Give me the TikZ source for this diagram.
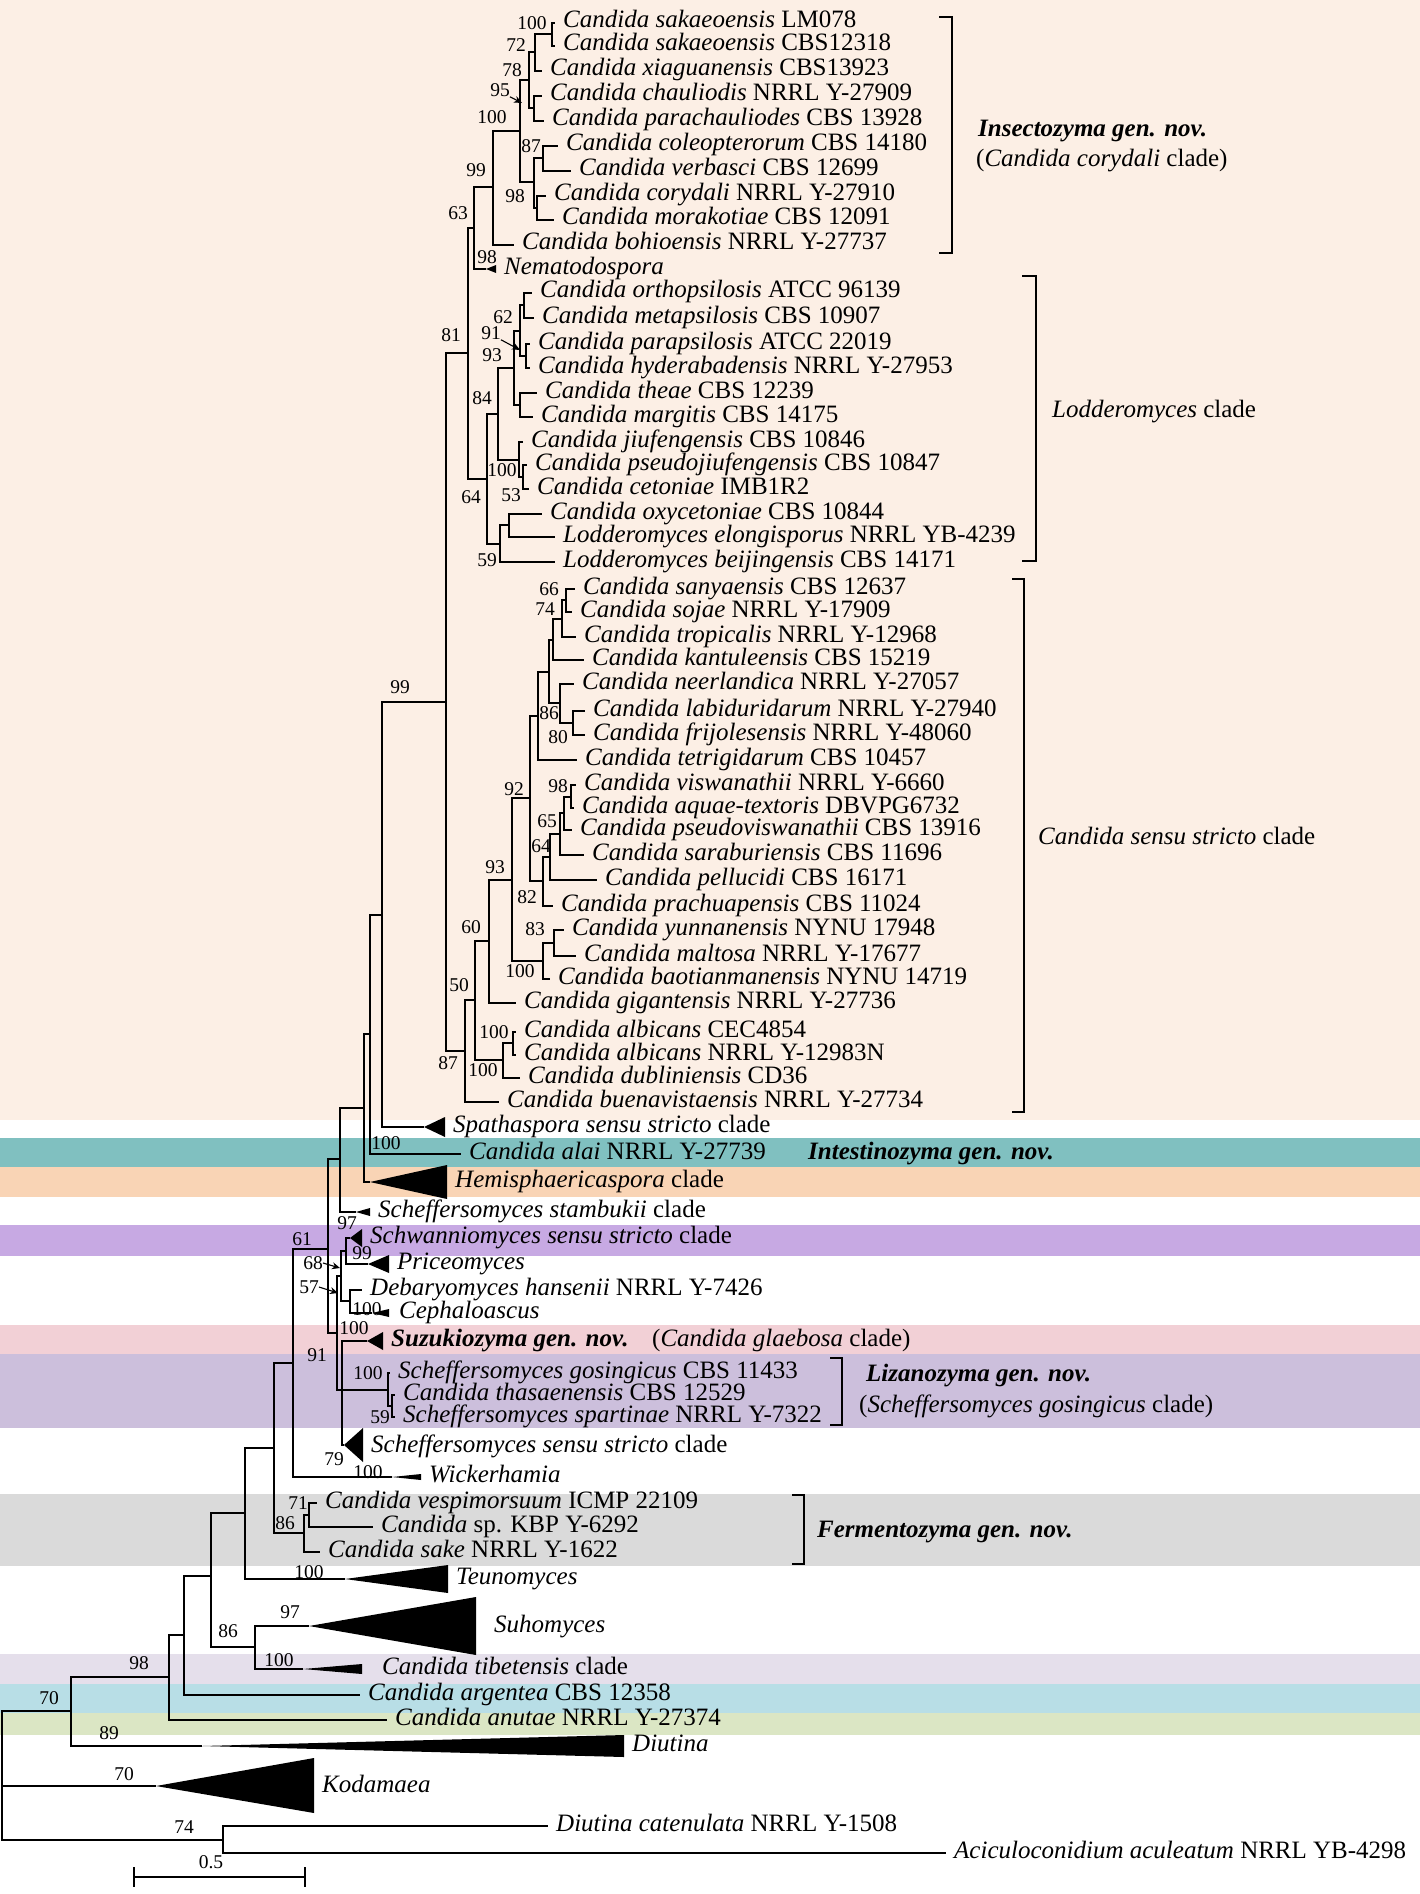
\documentclass[tikz,border=0pt]{standalone}
\usepackage{fontspec}
\setmainfont{Liberation Serif}
\usetikzlibrary{arrows.meta}
\definecolor{bandcream}{HTML}{FCEFE5}
\definecolor{bandteal}{HTML}{80C0C0}
\definecolor{bandpeach}{HTML}{F9D4B5}
\definecolor{bandviolet}{HTML}{C7A9E3}
\definecolor{bandpink}{HTML}{F2D0D6}
\definecolor{bandlilac}{HTML}{CCBFDC}
\definecolor{bandgrey}{HTML}{DADADA}
\definecolor{bandmist}{HTML}{E5DFEB}
\definecolor{bandsky}{HTML}{B8DEE6}
\definecolor{bandolive}{HTML}{DBE6C4}
\newcommand{\Cd}[1]{\textit{Candida #1}}
\newcommand{\gn}[1]{\textbf{\textit{#1 gen. nov.}}}

\begin{document}
\begin{tikzpicture}[x=1pt, y=-1pt,
  br/.style={line width=2pt},
  leaf/.style={anchor=west, inner xsep=8pt, inner ysep=0pt,
    text height=15pt, text depth=5pt, font=\fontsize{25}{26}\selectfont},
  lab/.style={anchor=west, inner sep=0pt, text height=15pt, text depth=5pt,
    font=\fontsize{25}{26}\selectfont},
  bs/.style={inner sep=0pt, font=\fontsize{19.5}{20}\selectfont},
  brk/.style={line width=2.4pt},
  ptr/.style={-{Stealth[length=8pt, width=7pt]}, line width=1.1pt},
]

% Background bands
\useasboundingbox (0,0) rectangle (1420,1894);
\fill[white] (0,0) rectangle (1420,1894);
\fill[bandcream] (0,0) rectangle (1420,1120);
\fill[bandteal] (0,1138) rectangle (1420,1167);
\fill[bandpeach] (0,1167) rectangle (1420,1197);
\fill[bandviolet] (0,1225) rectangle (1420,1256);
\fill[bandpink] (0,1325) rectangle (1420,1354);
\fill[bandlilac] (0,1354) rectangle (1420,1428);
\fill[bandgrey] (0,1494) rectangle (1420,1566);
\fill[bandmist] (0,1654) rectangle (1420,1684);
\fill[bandsky] (0,1684) rectangle (1420,1713);
\fill[bandolive] (0,1713) rectangle (1420,1735);

% =============================================
% Insectozyma clade
% =============================================
\node[leaf] (sak1) at (555,23) {\Cd{sakaeoensis} LM078};
\node[leaf] (sak2) at (555,46) {\Cd{sakaeoensis} CBS12318};
\node[leaf] (xia) at (542,71) {\Cd{xiaguanensis} CBS13923};
\node[leaf] (cha) at (542,96) {\Cd{chauliodis} NRRL Y-27909};
\node[leaf] (pch) at (544,121) {\Cd{parachauliodes} CBS 13928};
\node[leaf] (col) at (558,146) {\Cd{coleopterorum} CBS 14180};
\node[leaf] (vbs) at (571,171) {\Cd{verbasci} CBS 12699};
\node[leaf] (cor) at (546,196) {\Cd{corydali} NRRL Y-27910};
\node[leaf] (mor) at (554,220) {\Cd{morakotiae} CBS 12091};
\node[leaf] (boh) at (514,245) {\Cd{bohioensis} NRRL Y-27737};
\node[leaf] (nem) at (496,269) {\textit{Nematodospora}};

\coordinate (in1) at (552,34);
\coordinate (in2) at (535,52);
\coordinate (in3) at (534,108);
\coordinate (in4) at (529,80);
\coordinate (in5) at (543,158);
\coordinate (in6) at (537,208);
\coordinate (in7) at (534,182);
\coordinate (in8) at (520,131);
\coordinate (in9) at (493,187);
\coordinate (in10) at (474,228);
\coordinate (tnem) at (486,269);

\draw[br] (in1) |- (sak1.west) (in1) |- (sak2.west);
\draw[br] (in2) |- (in1) (in2) |- (xia.west);
\draw[br] (in3) |- (cha.west) (in3) |- (pch.west);
\draw[br] (in4) |- (in2) (in4) |- (in3);
\draw[br] (in5) |- (col.west) (in5) |- (vbs.west);
\draw[br] (in6) |- (cor.west) (in6) |- (mor.west);
\draw[br] (in7) |- (in5) (in7) |- (in6);
\draw[br] (in8) |- (in4) (in8) |- (in7);
\draw[br] (in9) |- (in8) (in9) |- (boh.west);
\draw[br] (in10) |- (in9) (in10) |- (tnem);
\fill (tnem) -- (496,265) -- (496,273) -- cycle;

\node[bs] (v1) at (532,23) {100};
\node[bs] (v2) at (516,45) {72};
\node[bs] (v3) at (512,70) {78};
\node[bs] (v4) at (500,90) {95};
\draw[ptr] (v4.south east) -- (522,103);
\node[bs] (v5) at (492,117) {100};
\node[bs] (v6) at (531,146) {87};
\node[bs] (v7) at (515,196) {98};
\node[bs] (v8) at (476,170) {99};
\node[bs] (v9) at (458,213) {63};
\node[bs] (v10) at (487,257) {98};

% =============================================
% Lodderomyces clade
% =============================================
\node[leaf] (ort) at (532,293) {\Cd{orthopsilosis} ATCC 96139};
\node[leaf] (met) at (534,318) {\Cd{metapsilosis} CBS 10907};
\node[leaf] (pps) at (530,344) {\Cd{parapsilosis} ATCC 22019};
\node[leaf] (hyd) at (530,368) {\Cd{hyderabadensis} NRRL Y-27953};
\node[leaf] (the) at (537,393) {\Cd{theae} CBS 12239};
\node[leaf] (mar) at (533,417) {\Cd{margitis} CBS 14175};
\node[leaf] (jiu) at (523,442) {\Cd{jiufengensis} CBS 10846};
\node[leaf] (psj) at (527,465) {\Cd{pseudojiufengensis} CBS 10847};
\node[leaf] (cet) at (529,489) {\Cd{cetoniae} IMB1R2};
\node[leaf] (oxy) at (542,514) {\Cd{oxycetoniae} CBS 10844};
\node[leaf] (elo) at (555,537) {\textit{Lodderomyces elongisporus} NRRL YB-4239};
\node[leaf] (bei) at (555,562) {\textit{Lodderomyces beijingensis} CBS 14171};

\coordinate (lo1) at (524,305);
\coordinate (lo2) at (526,356);
\coordinate (lo3) at (520,331);
\coordinate (lo4) at (520,405);
\coordinate (lo5) at (514,368);
\coordinate (lo6) at (523,477);
\coordinate (lo7) at (519,460);
\coordinate (lo8) at (498,414);
\coordinate (lo9) at (509,525);
\coordinate (lo10) at (500,544);
\coordinate (lo11) at (487,479);
\coordinate (lo12) at (468,353);

\draw[br] (lo1) |- (ort.west) (lo1) |- (met.west);
\draw[br] (lo2) |- (pps.west) (lo2) |- (hyd.west);
\draw[br] (lo3) |- (lo1) (lo3) |- (lo2);
\draw[br] (lo4) |- (the.west) (lo4) |- (mar.west);
\draw[br] (lo5) |- (lo3) (lo5) |- (lo4);
\draw[br] (lo6) |- (psj.west) (lo6) |- (cet.west);
\draw[br] (lo7) |- (jiu.west) (lo7) |- (lo6);
\draw[br] (lo8) |- (lo5) (lo8) |- (lo7);
\draw[br] (lo9) |- (oxy.west) (lo9) |- (elo.west);
\draw[br] (lo10) |- (lo9) (lo10) |- (bei.west);
\draw[br] (lo11) |- (lo8) (lo11) |- (lo10);
\draw[br] (lo12) |- (in10) (lo12) |- (lo11);

\node[bs] (v11) at (503,317) {62};
\node[bs] (v12) at (491,333) {91};
\draw[ptr] (v12.south east) -- (520,350);
\node[bs] (v13) at (492,355) {93};
\node[bs] (v14) at (482,398) {84};
\node[bs] (v15) at (502,470) {100};
\node[bs] (v16) at (511,495) {53};
\node[bs] (v17) at (471,497) {64};
\node[bs] (v18) at (487,560) {59};
\node[bs] (v19) at (451,335) {81};

% =============================================
% Candida sensu stricto clade
% =============================================
\node[leaf] (san) at (575,589) {\Cd{sanyaensis} CBS 12637};
\node[leaf] (soj) at (572,612) {\Cd{sojae} NRRL Y-17909};
\node[leaf] (tro) at (576,637) {\Cd{tropicalis} NRRL Y-12968};
\node[leaf] (kan) at (584,660) {\Cd{kantuleensis} CBS 15219};
\node[leaf] (nee) at (574,684) {\Cd{neerlandica} NRRL Y-27057};
\node[leaf] (lab) at (585,711) {\Cd{labiduridarum} NRRL Y-27940};
\node[leaf] (fri) at (585,735) {\Cd{frijolesensis} NRRL Y-48060};
\node[leaf] (tet) at (577,760) {\Cd{tetrigidarum} CBS 10457};
\node[leaf] (vis) at (576,785) {\Cd{viswanathii} NRRL Y-6660};
\node[leaf] (aqu) at (574,808) {\Cd{aquae-textoris} DBVPG6732};
\node[leaf] (psv) at (572,830) {\Cd{pseudoviswanathii} CBS 13916};
\node[leaf] (sar) at (584,855) {\Cd{saraburiensis} CBS 11696};
\node[leaf] (pel) at (597,880) {\Cd{pellucidi} CBS 16171};
\node[leaf] (pra) at (553,906) {\Cd{prachuapensis} CBS 11024};
\node[leaf] (yun) at (564,930) {\Cd{yunnanensis} NYNU 17948};
\node[leaf] (mal) at (576,956) {\Cd{maltosa} NRRL Y-17677};
\node[leaf] (bao) at (550,979) {\Cd{baotianmanensis} NYNU 14719};
\node[leaf] (gig) at (516,1003) {\Cd{gigantensis} NRRL Y-27736};
\node[leaf] (alb1) at (516,1032) {\Cd{albicans} CEC4854};
\node[leaf] (alb2) at (516,1055) {\Cd{albicans} NRRL Y-12983N};
\node[leaf] (dub) at (520,1078) {\Cd{dubliniensis} CD36};
\node[leaf] (bue) at (499,1102) {\Cd{buenavistaensis} NRRL Y-27734};

\coordinate (cs1) at (566,600);
\coordinate (cs2) at (562,619);
\coordinate (cs3) at (553,640);
\coordinate (cs4) at (573,723);
\coordinate (cs5) at (560,703);
\coordinate (cs6) at (549,672);
\coordinate (cs7) at (538,716);
\coordinate (cs8) at (571,797);
\coordinate (cs9) at (564,813);
\coordinate (cs10) at (560,834);
\coordinate (cs11) at (550,857);
\coordinate (cs12) at (543,881);
\coordinate (cs13) at (530,798);
\coordinate (cs14) at (554,943);
\coordinate (cs15) at (543,961);
\coordinate (cs16) at (512,880);
\coordinate (cs17) at (489,941);
\coordinate (cs18) at (513,1043);
\coordinate (cs19) at (503,1060);
\coordinate (cs20) at (475,1000);
\coordinate (cs21) at (465,1051);
\coordinate (cs22) at (446,702);

\draw[br] (cs1) |- (san.west) (cs1) |- (soj.west);
\draw[br] (cs2) |- (cs1) (cs2) |- (tro.west);
\draw[br] (cs3) |- (cs2) (cs3) |- (kan.west);
\draw[br] (cs4) |- (lab.west) (cs4) |- (fri.west);
\draw[br] (cs5) |- (nee.west) (cs5) |- (cs4);
\draw[br] (cs6) |- (cs3) (cs6) |- (cs5);
\draw[br] (cs7) |- (cs6) (cs7) |- (tet.west);
\draw[br] (cs8) |- (vis.west) (cs8) |- (aqu.west);
\draw[br] (cs9) |- (cs8) (cs9) |- (psv.west);
\draw[br] (cs10) |- (cs9) (cs10) |- (sar.west);
\draw[br] (cs11) |- (cs10) (cs11) |- (pel.west);
\draw[br] (cs12) |- (cs11) (cs12) |- (pra.west);
\draw[br] (cs13) |- (cs7) (cs13) |- (cs12);
\draw[br] (cs14) |- (yun.west) (cs14) |- (mal.west);
\draw[br] (cs15) |- (cs14) (cs15) |- (bao.west);
\draw[br] (cs16) |- (cs13) (cs16) |- (cs15);
\draw[br] (cs17) |- (cs16) (cs17) |- (gig.west);
\draw[br] (cs18) |- (alb1.west) (cs18) |- (alb2.west);
\draw[br] (cs19) |- (cs18) (cs19) |- (dub.west);
\draw[br] (cs20) |- (cs17) (cs20) |- (cs19);
\draw[br] (cs21) |- (cs20) (cs21) |- (bue.west);
\draw[br] (cs22) |- (lo12) (cs22) |- (cs21);

\node[bs] (v20) at (549,589) {66};
\node[bs] (v21) at (545,609) {74};
\node[bs] (v22) at (549,713) {86};
\node[bs] (v23) at (558,737) {80};
\node[bs] (v24) at (514,789) {92};
\node[bs] (v25) at (558,786) {98};
\node[bs] (v26) at (547,821) {65};
\node[bs] (v27) at (541,846) {64};
\node[bs] (v28) at (527,897) {82};
\node[bs] (v29) at (495,867) {93};
\node[bs] (v30) at (535,929) {83};
\node[bs] (v31) at (520,971) {100};
\node[bs] (v32) at (471,927) {60};
\node[bs] (v33) at (459,985) {50};
\node[bs] (v34) at (494,1032) {100};
\node[bs] (v35) at (483,1070) {100};
\node[bs] (v36) at (448,1063) {87};
\node[bs] (v37) at (400,687) {99};

% =============================================
% Middle clades
% =============================================
\coordinate (mc1) at (382,915);
\coordinate (tspa) at (424,1127);
\fill (tspa) -- (445,1117) -- (445,1137) -- cycle;
\node[leaf] (spa) at (445,1127) {\textit{Spathaspora sensu stricto} clade};
\draw[br] (mc1) |- (cs22) (mc1) |- (tspa);

\node[leaf] (ala) at (461,1154) {\Cd{alai} NRRL Y-27739};
\coordinate (mc2) at (370,1034);
\draw[br] (mc2) |- (mc1) (mc2) |- (ala.west);

\coordinate (themi) at (370,1182);
\fill (themi) -- (447,1165) -- (447,1199) -- cycle;
\node[leaf] (hemi) at (447,1182) {\textit{Hemisphaericaspora} clade};
\coordinate (mc3) at (364,1108);
\draw[br] (mc3) |- (mc2) (mc3) |- (themi);

\coordinate (tsta) at (356,1212);
\fill (tsta) -- (370,1208) -- (370,1216) -- cycle;
\node[leaf] (sta) at (370,1212) {\textit{Scheffersomyces stambukii} clade};
\coordinate (mc4) at (340,1159);
\draw[br] (mc4) |- (mc3) (mc4) |- (tsta);

\coordinate (tsch) at (350,1238);
\fill (tsch) -- (362,1229) -- (362,1247) -- cycle;
\node[leaf] (sch) at (362,1238) {\textit{Schwanniomyces sensu stricto} clade};
\coordinate (tpri) at (368,1264);
\fill (tpri) -- (389,1255) -- (389,1273) -- cycle;
\node[leaf] (pri) at (389,1264) {\textit{Priceomyces}};
\coordinate (mc5) at (346,1251);
\draw[br] (mc5) |- (tsch) (mc5) |- (tpri);

\node[leaf] (deb) at (362,1290) {\textit{Debaryomyces hansenii} NRRL Y-7426};
\coordinate (tcep) at (372,1313);
\fill (tcep) -- (389,1309) -- (389,1317) -- cycle;
\node[leaf] (cep) at (391,1313) {\textit{Cephaloascus}};
\coordinate (mc6) at (350,1301);
\draw[br] (mc6) |- (deb.west) (mc6) |- (tcep);
\coordinate (mc7) at (341,1276);
\draw[br] (mc7) |- (mc5) (mc7) |- (mc6);

\coordinate (tsuz) at (367,1341);
\fill (tsuz) -- (383,1332) -- (383,1350) -- cycle;
\node[leaf] (suz) at (383,1341) {\gn{Suzukiozyma}};
\node[lab] (suz2) at (652,1341) {(\textit{Candida glaebosa} clade)};

\node[leaf] (gos) at (390,1373) {\textit{Scheffersomyces gosingicus} CBS 11433};
\node[leaf] (tha) at (395,1395) {\Cd{thasaenensis} CBS 12529};
\node[leaf] (spt) at (395,1417) {\textit{Scheffersomyces spartinae} NRRL Y-7322};
\coordinate (mc8) at (392,1406);
\coordinate (mc9) at (388,1390);
\draw[br] (mc8) |- (tha.west) (mc8) |- (spt.west);
\draw[br] (mc9) |- (gos.west) (mc9) |- (mc8);

\coordinate (tsss) at (344,1445);
\fill (tsss) -- (363,1428) -- (363,1462) -- cycle;
\node[leaf] (sss) at (363,1447) {\textit{Scheffersomyces sensu stricto} clade};
\coordinate (mc10) at (342,1390);
\draw[br] (mc10) |- (tsuz) (mc10) |- (mc9) (mc10) |- (tsss);
\coordinate (mc11) at (337,1333);
\draw[br] (mc11) |- (mc7) (mc11) |- (mc10);
\coordinate (mc12) at (328,1249);
\draw[br] (mc12) |- (mc4) (mc12) |- (mc11);

\coordinate (twic) at (392,1477);
\fill (twic) -- (421,1474) -- (421,1480) -- cycle;
\node[leaf] (wic) at (421,1477) {\textit{Wickerhamia}};
\coordinate (mc13) at (293,1363);
\draw[br] (mc13) |- (mc12) (mc13) |- (twic);

\node[bs] (v38) at (386,1143) {100};
\node[bs] (v39) at (347,1223) {97};
\node[bs] (v40) at (362,1253) {99};
\node[bs] (v41) at (313,1263) {68};
\draw[ptr] (v41.east) -- (340,1268);
\node[bs] (v42) at (309,1287) {57};
\draw[ptr] (v42.east) -- (338,1293);
\node[bs] (v43) at (367,1309) {100};
\node[bs] (v44) at (354,1328) {100};
\node[bs] (v45) at (317,1355) {91};
\node[bs] (v46) at (368,1373) {100};
\node[bs] (v47) at (380,1417) {59};
\node[bs] (v48) at (334,1459) {79};
\node[bs] (v49) at (368,1472) {100};
\node[bs] (v50) at (302,1239) {61};

% =============================================
% Fermentozyma and lower clades
% =============================================
\node[leaf] (ves) at (317,1503) {\Cd{vespimorsuum} ICMP 22109};
\node[leaf] (csp) at (373,1527) {\textit{Candida} sp. KBP Y-6292};
\node[leaf] (sak) at (320,1552) {\Cd{sake} NRRL Y-1622};
\coordinate (fz1) at (309,1515);
\coordinate (fz2) at (304,1533);
\draw[br] (fz1) |- (ves.west) (fz1) |- (csp.west);
\draw[br] (fz2) |- (fz1) (fz2) |- (sak.west);
\coordinate (lc1) at (274,1448);
\draw[br] (lc1) |- (mc13) (lc1) |- (fz2);

\coordinate (tteu) at (345,1579);
\fill (tteu) -- (448,1565) -- (448,1593) -- cycle;
\node[leaf] (teu) at (448,1579) {\textit{Teunomyces}};
\coordinate (lc2) at (245,1513);
\draw[br] (lc2) |- (lc1) (lc2) |- (tteu);

\coordinate (tsuh) at (309,1626);
\fill (tsuh) -- (476,1597) -- (476,1655) -- cycle;
\node[leaf] (suh) at (486,1627) {\textit{Suhomyces}};
\coordinate (ttib) at (303,1669);
\fill (ttib) -- (362,1664) -- (362,1674) -- cycle;
\node[leaf] (tib) at (374,1669) {\Cd{tibetensis} clade};
\coordinate (lc3) at (255,1647);
\draw[br] (lc3) |- (tsuh) (lc3) |- (ttib);
\coordinate (lc4) at (211,1576);
\draw[br] (lc4) |- (lc2) (lc4) |- (lc3);

\node[leaf] (arg) at (360,1695) {\Cd{argentea} CBS 12358};
\coordinate (lc5) at (184,1635);
\draw[br] (lc5) |- (lc4) (lc5) |- (arg.west);
\node[leaf] (anu) at (387,1720) {\Cd{anutae} NRRL Y-27374};
\coordinate (lc6) at (169,1677);
\draw[br] (lc6) |- (lc5) (lc6) |- (anu.west);

\coordinate (tdiu) at (202,1746);
\fill (tdiu) -- (624,1735) -- (624,1757) -- cycle;
\node[leaf] (diu) at (624,1746) {\textit{Diutina}};
\coordinate (lc7) at (71,1711);
\draw[br] (lc7) |- (lc6) (lc7) |- (tdiu);

\coordinate (tkod) at (156,1786);
\fill (tkod) -- (314,1758) -- (314,1813) -- cycle;
\node[leaf] (kod) at (314,1787) {\textit{Kodamaea}};

\node[leaf] (dca) at (548,1826) {\textit{Diutina catenulata} NRRL Y-1508};
\node[leaf] (aci) at (946,1853) {\textit{Aciculoconidium aculeatum} NRRL YB-4298};
\coordinate (lc8) at (223,1840);
\draw[br] (lc8) |- (dca.west) (lc8) |- (aci.west);

\coordinate (root) at (1.5,1775);
\draw[br] (root) |- (lc7) (root) |- (tkod) (root) |- (lc8);

\node[bs] (v51) at (298,1503) {71};
\node[bs] (v52) at (285,1523) {86};
\node[bs] (v53) at (309,1572) {100};
\node[bs] (v54) at (290,1612) {97};
\node[bs] (v55) at (228,1631) {86};
\node[bs] (v56) at (279,1660) {100};
\node[bs] (v57) at (139,1663) {98};
\node[bs] (v58) at (49,1698) {70};
\node[bs] (v59) at (109,1733) {89};
\node[bs] (v60) at (124,1774) {70};
\node[bs] (v61) at (184,1827) {74};

% Scale bar
\draw[br] (134,1877) -- (305,1877);
\draw[br] (134,1867) -- (134,1887);
\draw[br] (305,1867) -- (305,1887);
\node[bs] (scl) at (211,1862) {0.5};

% =============================================
% Clade brackets and names
% =============================================
\draw[brk] (939,17) -- (952,17) -- (952,253) -- (939,253);
\node[lab] (insz) at (978,132) {\gn{Insectozyma}};
\node[lab] (insz2) at (976,162) {(\textit{Candida corydali} clade)};

\draw[brk] (1022,276) -- (1036,276) -- (1036,561) -- (1022,561);
\node[lab] (lodc) at (1052,412) {\textit{Lodderomyces} clade};

\draw[brk] (1012,579) -- (1024,579) -- (1024,1112) -- (1012,1112);
\node[lab] (cssc) at (1038,839) {\textit{Candida sensu stricto} clade};

\node[lab] (intz) at (808,1154) {\gn{Intestinozyma}};

\draw[brk] (830,1358) -- (842,1358) -- (842,1425) -- (830,1425);
\node[lab] (lizz) at (866,1376) {\gn{Lizanozyma}};
\node[lab] (lizz2) at (859,1407) {(\textit{Scheffersomyces gosingicus} clade)};

\draw[brk] (792,1495) -- (804,1495) -- (804,1564) -- (792,1564);
\node[lab] (ferz) at (817,1532) {\gn{Fermentozyma}};

\end{tikzpicture}
\end{document}
